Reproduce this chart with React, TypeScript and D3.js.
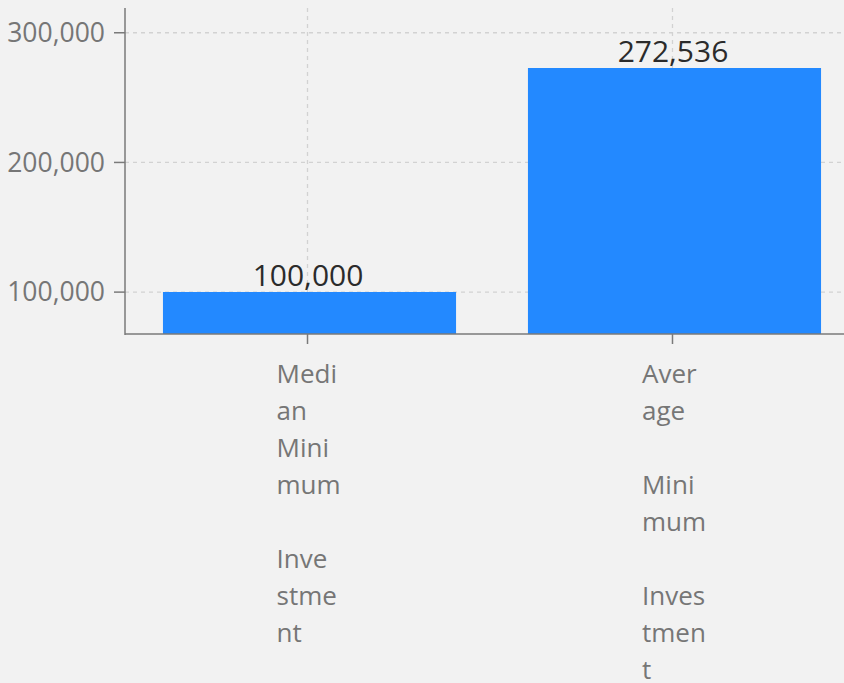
import React from "react";
import * as d3 from "d3";

const categories = ["Median Minimum Investment", "Average Minimum Investment"];
const values = [100000, 272536];
const labelLines = [
  ["Medi", "an", "Mini", "mum", "", "Inve", "stme", "nt"],
  ["Aver", "age", "", "Mini", "mum", "", "Inves", "tmen", "t"],
];
const yTicks = [100000, 200000, 300000];

const W = 844;
const H = 683;

export default function App() {
  const left = 125;
  const top = 8;
  const bottom = 334;
  const x = d3
    .scaleBand<string>()
    .domain(categories)
    .range([left, 859])
    .paddingInner(0.197)
    .paddingOuter(0.104);
  const y = d3.scaleLinear().domain([67700, 319100]).range([bottom, top]);
  const fmt = d3.format(",");
  const font = "'Open Sans', sans-serif";
  const tickX = (c: string) => x(c)! + x.bandwidth() / 2 - 2;

  return (
    <svg
      width={W}
      height={H}
      style={{ position: "absolute", left: 0, top: 0, background: "#f2f2f2" }}
      fontFamily={font}
    >
      <rect x={0} y={0} width={W} height={H} fill="#f2f2f2" />
      {yTicks.map((t) => (
        <line
          key={"gy" + t}
          x1={left}
          x2={W}
          y1={y(t)}
          y2={y(t)}
          stroke="#d2d2d2"
          strokeWidth={1.3}
          strokeDasharray="4,4"
        />
      ))}
      {categories.map((c) => (
        <line
          key={"gx" + c}
          x1={tickX(c)}
          x2={tickX(c)}
          y1={top}
          y2={bottom}
          stroke="#d2d2d2"
          strokeWidth={1.3}
          strokeDasharray="4,4"
        />
      ))}
      {categories.map((c, i) => (
        <rect
          key={"b" + c}
          x={x(c)}
          y={Math.round(y(values[i]))}
          width={x.bandwidth()}
          height={bottom - Math.round(y(values[i]))}
          fill="#2389ff"
        />
      ))}
      {categories.map((c, i) => (
        <text
          key={"v" + c}
          x={x(c)! + x.bandwidth() / 2 - 1.5}
          y={y(values[i]) - 6}
          textAnchor="middle"
          fontSize={30}
          fill="#2b2b2b"
        >
          {fmt(values[i])}
        </text>
      ))}
      <line x1={left} x2={left} y1={top} y2={bottom + 1} stroke="#7a7a7a" strokeWidth={1.5} />
      {yTicks.map((t) => (
        <g key={"ty" + t}>
          <line x1={left - 11} x2={left} y1={y(t)} y2={y(t)} stroke="#7a7a7a" strokeWidth={1.5} />
          <text
            x={left - 20}
            y={y(t)}
            dy="0.35em"
            textAnchor="end"
            fontSize={26.5}
            fill="#767676"
          >
            {fmt(t)}
          </text>
        </g>
      ))}
      <line x1={left} x2={W} y1={bottom} y2={bottom} stroke="#7a7a7a" strokeWidth={1.5} />
      {categories.map((c, i) => (
        <g key={"tx" + c}>
          <line
            x1={tickX(c)}
            x2={tickX(c)}
            y1={bottom}
            y2={bottom + 10}
            stroke="#7a7a7a"
            strokeWidth={1.5}
          />
          <text fontSize={26} fill="#767676">
            {labelLines[i].map((l, j) => (
              <tspan key={j} x={tickX(c) - 31 + (i === 1 ? 0.5 : 0)} y={383 + j * 37}>
                {l}
              </tspan>
            ))}
          </text>
        </g>
      ))}
    </svg>
  );
}
